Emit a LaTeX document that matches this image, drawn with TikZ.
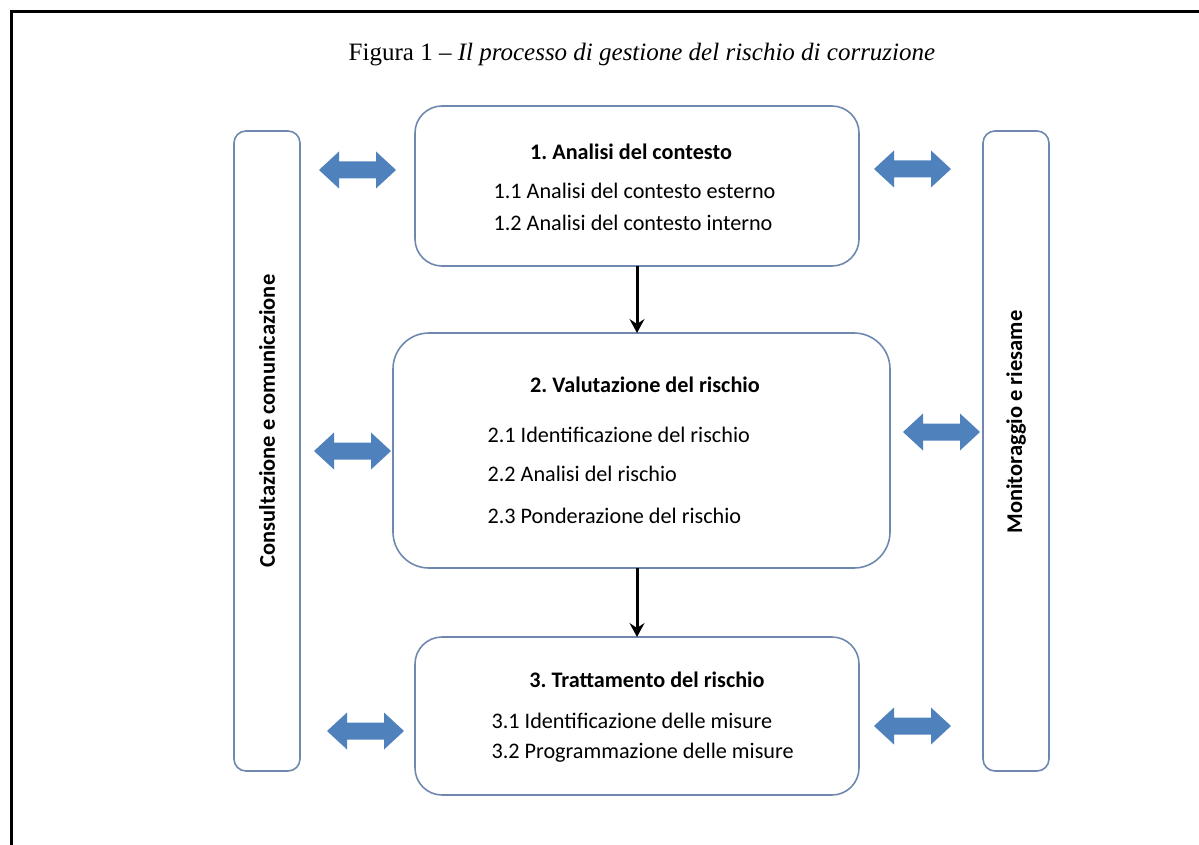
\documentclass[tikz,border=0pt]{standalone}
\usepackage{fontspec}
\setmainfont{Carlito}
\newfontfamily\titlefont[Ligatures=TeX]{Liberation Serif}
\usetikzlibrary{arrows.meta}
\definecolor{boxline}{HTML}{6F88AE}
\definecolor{arrowblue}{HTML}{4F81BD}
\frenchspacing
\tikzset{
  sidebox/.style={draw=boxline, line width=1.6pt, rounded corners=12pt},
  mainbox/.style={draw=boxline, line width=1.6pt},
  flow/.style={line width=3pt, -{Stealth[length=14pt,width=15pt,inset=5pt]}},
  sidetext/.style={rotate=90, font=\fontsize{22.5}{26}\selectfont\bfseries},
  itemtext/.style={font=\fontsize{22.2}{32}\selectfont, align=left, anchor=west},
  headtext/.style={font=\fontsize{22.2}{26}\selectfont\bfseries, anchor=center},
  dblarrow/.pic={
    \fill[arrowblue] (-38.5,0) -- (-18.5,-18.5) -- (-18.5,-8.5) -- (18.5,-8.5) -- (18.5,-18.5)
      -- (38.5,0) -- (18.5,18.5) -- (18.5,8.5) -- (-18.5,8.5) -- (-18.5,18.5) -- cycle;
  }
}
\begin{document}
\begin{tikzpicture}[x=1pt,y=-1pt]
\useasboundingbox (0,0) rectangle (1199,845);
% frame
\draw[line width=3pt] (11,845) -- (11,12) -- (1199,12);
% title
\node (title) at (642,55) {\titlefont\fontsize{25}{30}\selectfont Figura 1 – \textit{Il processo di gestione del rischio di corruzione}};
% side boxes
\draw[sidebox] (234,131) rectangle (300,771);
\node[sidetext] (cons) at (267,421) {Consultazione e comunicazione};
\draw[sidebox] (983,131) rectangle (1049,771);
\node[sidetext] (moni) at (1016,422) {Monitoraggio e riesame};
% main boxes
\draw[mainbox, rounded corners=27pt] (415,106) rectangle (859,266);
\coordinate (b1s) at (637,266);
\draw[mainbox, rounded corners=36pt] (393,333) rectangle (890,568);
\coordinate (b2n) at (637,333);
\coordinate (b2s) at (637,568);
\draw[mainbox, rounded corners=27pt] (415,637) rectangle (859,795);
\coordinate (b3n) at (637,637);
% box texts
\node[headtext] (h1) at (631,152) {1. Analisi del contesto};
\node[itemtext] (i11) at (490,191) {1.1 Analisi del contesto esterno};
\node[itemtext] (i12) at (490,223) {1.2 Analisi del contesto interno};
\node[headtext] (h2) at (645,385) {2. Valutazione del rischio};
\node[itemtext] (i21) at (484,435) {2.1 Identificazione del rischio};
\node[itemtext] (i22) at (484,474) {2.2 Analisi del rischio};
\node[itemtext] (i23) at (484,516) {2.3 Ponderazione del rischio};
\node[headtext] (h3) at (647,680) {3. Trattamento del rischio};
\node[itemtext] (i31) at (488,721) {3.1 Identificazione delle misure};
\node[itemtext] (i32) at (488,753) {3.2 Programmazione delle misure};
% flow arrows
\draw[flow] (b1s) -- (b2n);
\draw[flow] (b2s) -- (b3n);
% blue double arrows
\pic at (357.5,170) {dblarrow};
\pic at (352.5,451) {dblarrow};
\pic at (365.5,731) {dblarrow};
\pic at (912.5,169) {dblarrow};
\pic at (941.5,432) {dblarrow};
\pic at (912.5,726) {dblarrow};
\end{tikzpicture}
\end{document}
